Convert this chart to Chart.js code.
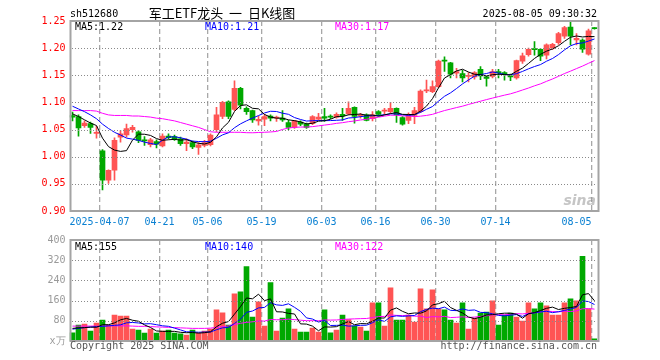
<!DOCTYPE html>
<html><head><meta charset="utf-8">
<script src="https://cdn.jsdelivr.net/npm/chart.js@4.4.1/dist/chart.umd.min.js"></script>
<style>
html,body{margin:0;padding:0;background:#fff;}
#wrap{position:relative;width:660px;height:360px;overflow:hidden;background:#fff;}
#pc{position:absolute;left:0;top:0;}
#vc{position:absolute;left:0;top:230px;}
</style></head><body>
<div id="wrap"><canvas id="pc" width="660" height="230"></canvas><canvas id="vc" width="660" height="130"></canvas></div>
<script>
const dates = ['2025-03-28','2025-03-31','2025-04-01','2025-04-02','2025-04-03','2025-04-07','2025-04-08','2025-04-09','2025-04-10','2025-04-11',
'2025-04-14','2025-04-15','2025-04-16','2025-04-17','2025-04-18','2025-04-21','2025-04-22','2025-04-23','2025-04-24','2025-04-25',
'2025-04-28','2025-04-29','2025-04-30','2025-05-06','2025-05-07','2025-05-08','2025-05-09','2025-05-12','2025-05-13','2025-05-14',
'2025-05-15','2025-05-16','2025-05-19','2025-05-20','2025-05-21','2025-05-22','2025-05-23','2025-05-26','2025-05-27','2025-05-28',
'2025-05-29','2025-05-30','2025-06-03','2025-06-04','2025-06-05','2025-06-06','2025-06-09','2025-06-10','2025-06-11','2025-06-12',
'2025-06-13','2025-06-16','2025-06-17','2025-06-18','2025-06-19','2025-06-20','2025-06-23','2025-06-24','2025-06-25','2025-06-26',
'2025-06-27','2025-06-30','2025-07-01','2025-07-02','2025-07-03','2025-07-04','2025-07-07','2025-07-08','2025-07-09','2025-07-10',
'2025-07-11','2025-07-14','2025-07-15','2025-07-16','2025-07-17','2025-07-18','2025-07-21','2025-07-22','2025-07-23','2025-07-24',
'2025-07-25','2025-07-28','2025-07-29','2025-07-30','2025-07-31','2025-08-01','2025-08-04','2025-08-05'];
const opens = [1.076,1.074,1.057,1.061,1.043,1.011,0.957,0.975,1.036,1.040,
1.050,1.046,1.031,1.022,1.028,1.020,1.038,1.037,1.033,1.024,
1.026,1.017,1.021,1.022,1.050,1.074,1.101,1.087,1.126,1.089,
1.085,1.066,1.069,1.075,1.071,1.071,1.063,1.054,1.064,1.060,
1.061,1.069,1.074,1.075,1.073,1.078,1.079,1.091,1.075,1.077,
1.070,1.083,1.084,1.083,1.089,1.072,1.067,1.076,1.083,1.121,
1.120,1.129,1.178,1.173,1.154,1.153,1.148,1.147,1.161,1.147,
1.148,1.157,1.155,1.149,1.145,1.176,1.188,1.199,1.198,1.187,
1.200,1.210,1.222,1.239,1.215,1.215,1.189,1.237];
const closes = [1.073,1.053,1.062,1.054,1.045,0.957,0.975,1.030,1.042,1.052,
1.054,1.030,1.029,1.031,1.023,1.038,1.035,1.033,1.024,1.027,
1.018,1.022,1.026,1.040,1.077,1.100,1.074,1.126,1.095,1.083,
1.068,1.069,1.074,1.071,1.073,1.068,1.054,1.066,1.060,1.054,
1.074,1.073,1.071,1.073,1.078,1.075,1.089,1.074,1.077,1.067,
1.077,1.078,1.086,1.089,1.077,1.060,1.077,1.085,1.121,1.123,
1.129,1.176,1.176,1.152,1.157,1.145,1.150,1.155,1.149,1.144,
1.157,1.155,1.151,1.147,1.177,1.186,1.198,1.197,1.185,1.206,
1.207,1.227,1.238,1.222,1.218,1.198,1.232,1.236];
const highs = [1.082,1.077,1.066,1.064,1.056,1.013,0.976,1.035,1.048,1.060,
1.058,1.048,1.037,1.034,1.031,1.042,1.042,1.040,1.036,1.033,
1.029,1.026,1.030,1.042,1.091,1.102,1.103,1.140,1.128,1.092,
1.086,1.075,1.078,1.077,1.075,1.085,1.067,1.067,1.066,1.062,
1.076,1.080,1.089,1.077,1.081,1.089,1.101,1.092,1.080,1.079,
1.083,1.085,1.089,1.100,1.090,1.074,1.081,1.091,1.123,1.141,
1.140,1.178,1.184,1.174,1.163,1.159,1.155,1.157,1.166,1.150,
1.161,1.161,1.157,1.152,1.178,1.191,1.200,1.212,1.199,1.208,
1.209,1.229,1.240,1.249,1.227,1.217,1.235,1.238];
const lows = [1.066,1.038,1.054,1.043,1.034,0.939,0.951,0.957,1.027,1.036,
1.045,1.026,1.021,1.018,1.016,1.018,1.033,1.030,1.021,1.011,
1.015,1.004,1.018,1.020,1.046,1.070,1.070,1.085,1.088,1.078,
1.063,1.058,1.057,1.066,1.065,1.065,1.050,1.052,1.057,1.052,
1.059,1.068,1.065,1.070,1.071,1.067,1.077,1.062,1.071,1.066,
1.066,1.075,1.078,1.080,1.063,1.058,1.061,1.061,1.081,1.118,
1.118,1.127,1.157,1.145,1.145,1.138,1.138,1.143,1.142,1.130,
1.145,1.145,1.141,1.140,1.143,1.172,1.185,1.187,1.177,1.180,
1.197,1.207,1.218,1.206,1.206,1.192,1.187,1.235];
const volumes = [32,63,67,39,71,83,63,103,99,99,
47,43,31,47,31,39,43,31,28,23,
43,31,39,47,123,112,63,187,195,295,
95,155,59,231,39,91,127,47,35,35,
51,35,123,32,43,103,85,59,55,39,
151,151,59,211,83,83,103,75,207,127,
203,127,123,83,71,151,47,91,111,115,
159,63,103,111,95,79,151,127,151,139,
103,103,151,167,159,335,127,9];
const ma5Head  = [1.079,1.074,1.068,1.062];
const ma10Head = [1.093,1.088,1.083,1.077,1.070,1.060,1.052,1.045,1.040];
const ma30Head = [1.085,1.085,1.085,1.085,1.084,1.080,1.077,1.076,1.076,1.076,
1.075,1.075,1.074,1.073,1.071,1.070,1.068,1.066,1.063,1.060,
1.057,1.054,1.050,1.046,1.045,1.045,1.045,1.045,1.045];
const vma5Head  = [50,52,53,55];
const vma10Head = [47,50,53,55,57,58,60,62,64];
const vma30Head = [59,59,59,59,59,59,60,60,60,60,59,58,58,57,56,55,54,53,52,51,50,50,50,51,54,57,60,65,70];

const priceTicks = [0.90,0.95,1.00,1.05,1.10,1.15,1.20,1.25];
const volTicks = [0,80,160,240,320,400];
const volTickLabels = ['x万','80','160','240','320','400'];
const axisDates = ['2025-04-07','2025-04-21','2025-05-06','2025-05-19','2025-06-03','2025-06-16','2025-06-30','2025-07-14','2025-08-05'];

function movingAvg(vals, n, head){
  return vals.map((v,i)=>{
    if(i < n-1) return head[i];
    let s=0; for(let k=i-n+1;k<=i;k++) s+=vals[k];
    return s/n;
  });
}
const RED='#ff5454', GREEN='#00a800';
const isUp = closes.map((c,i)=>c>=opens[i]);
const candleColors = isUp.map(u=>u?RED:GREEN);
const labelIdx = new Set(axisDates.map(d=>dates.indexOf(d)));
function tickText(i){
  const d = dates[i];
  if(!labelIdx.has(i)) return '';
  const j = axisDates.indexOf(d);
  if(j===0) return d;
  if(j===axisDates.length-1) return d.slice(5)+'     ';
  return d.slice(5);
}
const MONO = 'DejaVu Sans Mono';
const frame = {id:'frame', afterDraw(chart){
  const a=chart.chartArea, c=chart.ctx; c.save();
  c.strokeStyle='#a4a4a4'; c.lineWidth=2;
  c.strokeRect(Math.round(a.left)+0.5, Math.round(a.top), Math.round(a.right-a.left), Math.round(a.bottom-a.top));
  c.restore();
}};
// dotted horizontal grid lines at the given tick values, placed through the y scale
function hgridPlugin(tickValues){
  return {id:'hgrid', afterDatasetsDraw(chart){
    const a=chart.chartArea, c=chart.ctx, ys=chart.scales.y;
    const lo=ys.min, hi=ys.max;
    c.save();
    c.fillStyle='#8a8a8a';
    tickValues.forEach(v=>{
      let py=ys.getPixelForValue(v);
      if(!isFinite(py)) py = a.bottom - (v-lo)/(hi-lo)*(a.bottom-a.top);
      const y=Math.round(py);
      if(!(y>a.top+2 && y<a.bottom-2)) return;
      for(let x=Math.ceil(a.left)+2; x<a.right-1; x+=3){ c.fillRect(x, y, 1, 1); }
    });
    c.restore();
  }};
}
function textPlugin(items){
  return {id:'texts', afterDraw(chart){
    const c=chart.ctx; c.save();
    items.forEach(t=>{
      c.font=t.font||('10px "'+MONO+'"'); c.fillStyle=t.color||'#000';
      c.textAlign=t.align||'left'; c.textBaseline='alphabetic';
      c.fillText(t.text,t.x,t.y);
    });
    c.restore();
  }};
}
const vGrid = ctx => (ctx.index!==undefined && labelIdx.has(ctx.index)) ? '#a8a8a8' : 'rgba(0,0,0,0)';

new Chart(document.getElementById('pc'), {
  type:'bar',
  data:{labels:dates, datasets:[
    {type:'line', data:movingAvg(closes,5,ma5Head), borderColor:'#000000', borderWidth:1, pointRadius:0, tension:0, order:0},
    {type:'line', data:movingAvg(closes,10,ma10Head), borderColor:'#0000ff', borderWidth:1, pointRadius:0, tension:0, order:0},
    {type:'line', data:movingAvg(closes,30,ma30Head), borderColor:'#ff00ff', borderWidth:1, pointRadius:0, tension:0, order:0},
    {data:opens.map((o,i)=>[o,closes[i]]), backgroundColor:candleColors, barThickness:5, grouped:false, minBarLength:1, order:1},
    {data:lows.map((l,i)=>[l,highs[i]]), backgroundColor:candleColors, barThickness:1, grouped:false, order:2}
  ]},
  options:{
    responsive:false, animation:false, events:[],
    layout:{padding:{left:0,right:62.5,top:21,bottom:0}},
    plugins:{legend:{display:false}, tooltip:{enabled:false}, title:{display:false}},
    scales:{
      x:{offset:true,
        grid:{offset:true, drawTicks:false, color:vGrid, lineWidth:1.3},
        border:{display:false, dash:[5,3]},
        ticks:{autoSkip:false, maxRotation:0, minRotation:0, padding:5, labelOffset:-3, color:'#0a80d2',
               font:{family:MONO,size:10}, callback:(v,i)=>tickText(i)},
        afterFit:s=>{s.height=19;}},
      y:{min:0.9, max:1.25,
        afterBuildTicks:s=>{s.ticks=priceTicks.map(v=>({value:v}));},
        grid:{display:false, drawTicks:false},
        border:{display:false},
        ticks:{padding:4, color:'#ff0000', font:{family:MONO,size:10}, callback:v=>Number(v).toFixed(2)},
        afterFit:s=>{s.width=69.5;}}
    }
  },
  plugins:[hgridPlugin(priceTicks), frame, textPlugin([
    {text:'sh512680', x:70, y:16.5},
    {text:'军工ETF龙头  一  日K线图', x:222, y:17.5, align:'center', font:'13px "Noto Sans CJK SC"'},
    {text:'2025-08-05 09:30:32', x:597, y:16.5, align:'right'},
    {text:'MA5:1.22', x:75, y:30},
    {text:'MA10:1.21', x:205, y:30, color:'#0000ff'},
    {text:'MA30:1.17', x:335, y:30, color:'#ff00ff'},
    {text:'sina', x:596, y:205, align:'right', color:'rgba(150,150,150,0.55)', font:'italic bold 14px "DejaVu Sans"'}
  ])]
});

new Chart(document.getElementById('vc'), {
  type:'bar',
  data:{labels:dates, datasets:[
    {type:'line', data:movingAvg(volumes,5,vma5Head), borderColor:'#000000', borderWidth:1, pointRadius:0, tension:0, order:0},
    {type:'line', data:movingAvg(volumes,10,vma10Head), borderColor:'#0000ff', borderWidth:1, pointRadius:0, tension:0, order:0},
    {type:'line', data:movingAvg(volumes,30,vma30Head), borderColor:'#ff00ff', borderWidth:1, pointRadius:0, tension:0, order:0},
    {data:volumes, backgroundColor:candleColors, barThickness:5, grouped:false, order:1}
  ]},
  options:{
    responsive:false, animation:false, events:[],
    layout:{padding:{left:0,right:62.5,top:10,bottom:19}},
    plugins:{legend:{display:false}, tooltip:{enabled:false}, title:{display:false}},
    scales:{
      x:{offset:true,
        grid:{offset:true, drawTicks:false, color:vGrid, lineWidth:1.3},
        border:{display:false, dash:[5,3]},
        ticks:{display:false, autoSkip:false, maxRotation:0},
        afterFit:s=>{s.height=0;}},
      y:{min:0, max:400,
        afterBuildTicks:s=>{s.ticks=volTicks.map(v=>({value:v}));},
        grid:{display:false, drawTicks:false},
        border:{display:false},
        ticks:{padding:4, color:'#9a9a9a', font:{family:MONO,size:10}, callback:(v)=>volTickLabels[volTicks.indexOf(v)]},
        afterFit:s=>{s.width=69.5;}}
    }
  },
  plugins:[hgridPlugin(volTicks), frame, textPlugin([
    {text:'MA5:155', x:75, y:20},
    {text:'MA10:140', x:205, y:20, color:'#0000ff'},
    {text:'MA30:122', x:335, y:20, color:'#ff00ff'},
    {text:'Copyright 2025 SINA.COM', x:70, y:119, color:'#555555'},
    {text:'http://finance.sina.com.cn', x:597, y:119, align:'right', color:'#555555'}
  ])]
});
</script>
</body></html>
